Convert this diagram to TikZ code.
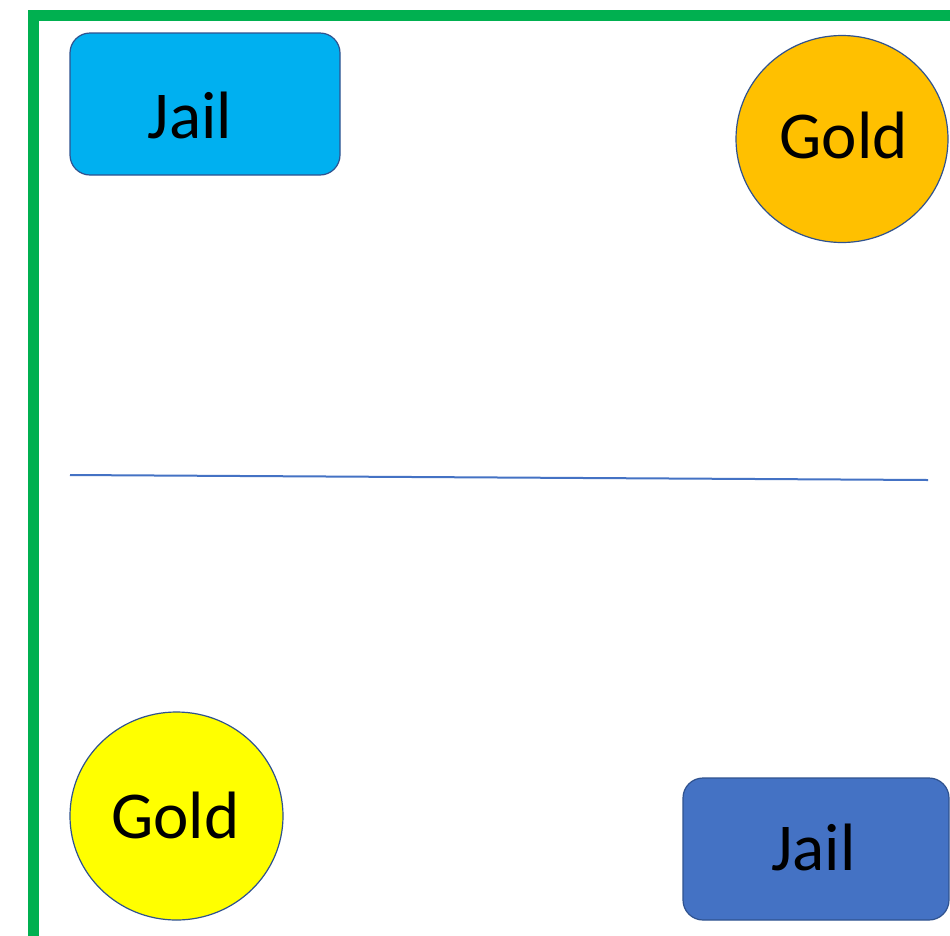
\documentclass[tikz,border=0pt]{standalone}
\usepackage{fontspec}
\setmainfont{Carlito}
\usetikzlibrary{shapes.geometric}
\definecolor{frame}{HTML}{00B050}
\definecolor{edge}{HTML}{2F528F}
\definecolor{lightblue}{HTML}{00B0F0}
\definecolor{midblue}{HTML}{4472C4}
\definecolor{gold}{HTML}{FFC000}
\definecolor{yel}{HTML}{FFFF00}
\tikzset{
  jailbox/.style={draw=edge, line width=1.2pt, rounded corners=20pt, inner sep=0pt, minimum width=270pt, minimum height=142pt},
  goldball/.style={ellipse, draw=edge, line width=1.2pt, inner sep=0pt, minimum width=212pt, minimum height=207pt},
  lbl/.style={anchor=base, inner sep=0pt, font=\fontsize{67}{80}\selectfont}
}
\begin{document}
\begin{tikzpicture}[x=1pt, y=-1pt]
\useasboundingbox (0,0) rectangle (950,935);
\clip (0,0) rectangle (950,935);
\fill[white] (0,0) rectangle (950,935);
\draw[frame, line width=10.5pt] (33.5,15.5) rectangle (1100,1100);
% top-left jail
\node[jailbox, fill=lightblue] (jail1) at (205,104) {};
\node[lbl] (jail1t) at (190,138) {Jail};
% top-right gold
\node[goldball, fill=gold] (gold1) at (842,139) {};
\node[lbl] (gold1t) at (843.5,158) {Gold};
% bottom-left gold
\node[goldball, fill=yel, minimum width=213pt, minimum height=208pt] (gold2) at (176.5,816) {};
\node[lbl] (gold2t) at (175.5,838) {Gold};
% bottom-right jail
\node[jailbox, fill=midblue, minimum width=266pt, minimum height=142pt] (jail2) at (816,849) {};
\node[lbl] (jail2t) at (813.5,870) {Jail};
% divider line
\coordinate (la) at (70,475);
\coordinate (lb) at (928,480);
\draw[midblue, line width=2pt] (la) -- (lb);
\end{tikzpicture}
\end{document}
